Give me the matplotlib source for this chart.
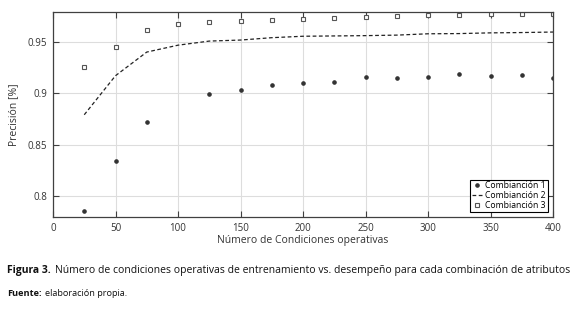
import matplotlib
matplotlib.use("Agg")
import matplotlib.pyplot as plt

x = [25, 50, 75, 100, 125, 150, 175, 200, 225, 250, 275, 300, 325, 350, 375, 400]
comb1_x = [25, 50, 75, 125, 150, 175, 200, 225, 250, 275, 300, 325, 350, 375, 400]
comb1 = [0.785, 0.834, 0.872, 0.899, 0.903, 0.908, 0.910, 0.911, 0.916, 0.915, 0.916, 0.919, 0.917, 0.918, 0.915]
comb2 = [0.879, 0.917, 0.940, 0.9467, 0.9507, 0.9517, 0.954, 0.9554, 0.9557, 0.956, 0.9565, 0.9578, 0.958, 0.9587, 0.959, 0.9595]
comb3 = [0.925, 0.945, 0.961, 0.9673, 0.969, 0.970, 0.971, 0.9723, 0.9732, 0.9745, 0.9747, 0.9758, 0.9758, 0.9767, 0.9767, 0.9767]
xticks = [0, 50, 100, 150, 200, 250, 300, 350, 400]
yticks = [0.8, 0.85, 0.9, 0.95]
ytick_labels = ["0.8", "0.85", "0.9", "0.95"]
labels = ["Combianción 1", "Combianción 2", "Combianción 3"]

plt.rcParams['font.family'] = ['Open Sans', 'DejaVu Sans']
fig = plt.figure(figsize=(5.73, 3.12), dpi=100)
ax = fig.add_axes([53/573, 1-217/312, 500/573, 205/312])

spine_c = '#404040'
ax.plot(comb1_x, comb1, linestyle='none', marker='o', markersize=2.3,
        color='#333333', label=labels[0])
ax.plot(x, comb2, linestyle=(0, (3, 2)), linewidth=0.9, color='#222222', label=labels[1])
ax.plot(x, comb3, linestyle='none', marker='s', markersize=2.7, markerfacecolor='white',
        markeredgecolor='#555555', markeredgewidth=0.8, label=labels[2])

ax.set_xlim(0, 400)
ax.set_ylim(0.7795, 0.979)
ax.set_xticks(xticks)
ax.set_yticks(yticks)
ax.set_yticklabels(ytick_labels)
ax.grid(True, color='#dddddd', linewidth=0.8)
ax.set_axisbelow(True)
ax.tick_params(direction='in', length=4, width=0.8, color=spine_c, labelsize=7,
               labelcolor='#333333', top=True, right=True, pad=4)
for s in ax.spines.values():
    s.set_color(spine_c)
    s.set_linewidth(0.9)
ax.set_xlabel("Número de Condiciones operativas", fontsize=7.5, color='#333333', labelpad=1)
ax.set_ylabel("Precisión [%]", fontsize=7.5, color='#333333', labelpad=6)

leg = ax.legend(loc='lower right', fontsize=6.2, frameon=True, fancybox=False,
                edgecolor='black', borderpad=0.2, labelspacing=0.1, handlelength=1.2,
                handletextpad=0.4, borderaxespad=0.6, framealpha=1)
leg.get_frame().set_linewidth(0.8)

fig.canvas.draw()
r = fig.canvas.get_renderer()
t1 = fig.text(7/573, 1-270/312, "Figura 3.", fontsize=7.5, fontweight='bold', va='center', color='#111111')
bb = t1.get_window_extent(renderer=r)
fig.text(bb.x1/573 + 4/573, 1-270/312,
         "Número de condiciones operativas de entrenamiento vs. desempeño para cada combinación de atributos",
         fontsize=7.48, va='center', color='#111111')
t2 = fig.text(7/573, 1-294/312, "Fuente:", fontsize=6.6, fontweight='bold', va='center', color='#111111')
bb2 = t2.get_window_extent(renderer=r)
fig.text(bb2.x1/573 + 3/573, 1-294/312, "elaboración propia.", fontsize=6.6, va='center', color='#111111')

fig.savefig("out.png", dpi=100)
